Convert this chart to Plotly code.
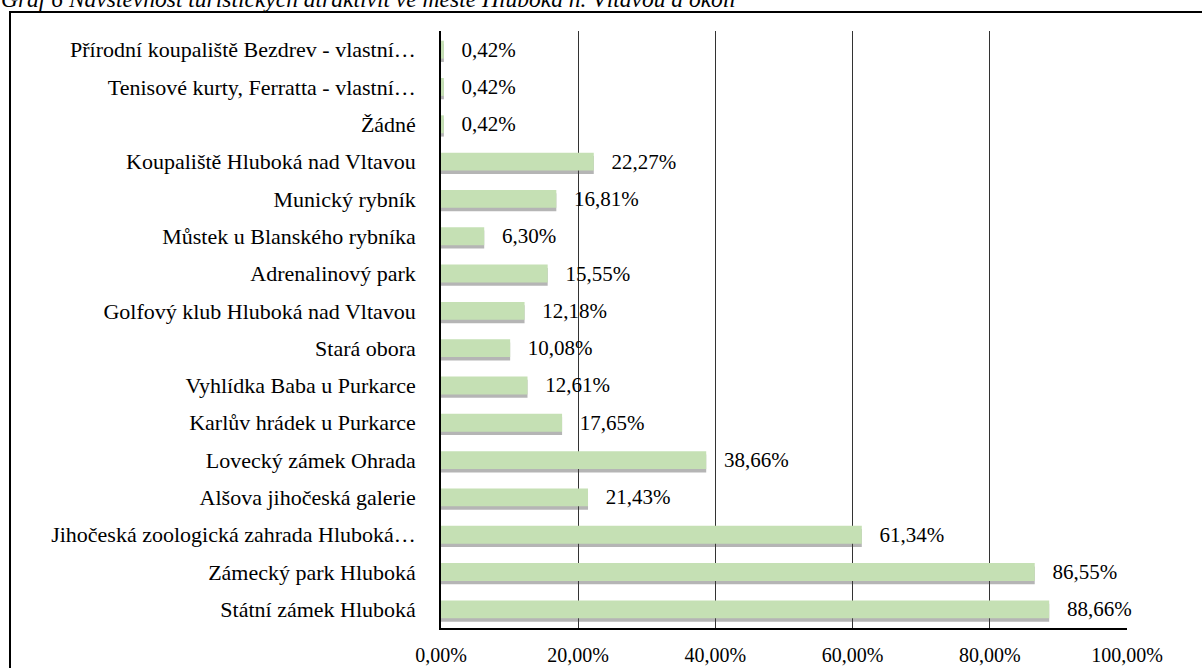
import plotly.graph_objects as go

categories = [
    "Státní zámek Hluboká",
    "Zámecký park Hluboká",
    "Jihočeská zoologická zahrada Hluboká…",
    "Alšova jihočeská galerie",
    "Lovecký zámek Ohrada",
    "Karlův hrádek u Purkarce",
    "Vyhlídka Baba u Purkarce",
    "Stará obora",
    "Golfový klub Hluboká nad Vltavou",
    "Adrenalinový park",
    "Můstek u Blanského rybníka",
    "Munický rybník",
    "Koupaliště Hluboká nad Vltavou",
    "Žádné",
    "Tenisové kurty, Ferratta - vlastní…",
    "Přírodní koupaliště Bezdrev - vlastní…",
]
values = [88.66, 86.55, 61.34, 21.43, 38.66, 17.65, 12.61, 10.08, 12.18,
          15.55, 6.30, 16.81, 22.27, 0.42, 0.42, 0.42]
tick_vals = [0, 20, 40, 60, 80, 100]
tick_labels = ["0,00%", "20,00%", "40,00%", "60,00%", "80,00%", "100,00%"]

title_text = "Graf 6 Návštěvnost turistických atraktivit ve městě Hluboká n. Vltavou a okolí"

FONT = "Liberation Serif, Times New Roman, serif"
W, H = 1202, 668
L, R, T, B = 441, 75, 31, 40
pw = W - L - R
ph = H - T - B

fig = go.Figure()
# shadow
fig.add_trace(go.Bar(
    y=categories, x=values, orientation="h",
    width=0.48, offset=-0.24 - 0.09,
    marker=dict(color="rgba(70,70,70,0.4)", line=dict(width=0)),
    hoverinfo="skip", showlegend=False,
))
# main bars
fig.add_trace(go.Bar(
    y=categories, x=values, orientation="h",
    width=0.48, offset=-0.24,
    marker=dict(color="#C5E0B4", line=dict(width=0)),
    text=values,
    texttemplate="\u2002\u2009%{x:.2f}%",
    textposition="outside",
    constraintext="none",
    textfont=dict(family=FONT, size=21, color="black"),
    cliponaxis=False,
    showlegend=False,
))

fig.update_layout(
    width=W, height=H,
    margin=dict(l=L, r=R, t=T, b=B, autoexpand=False),
    paper_bgcolor="white", plot_bgcolor="white",
    barmode="overlay",
    separators=", ",
    font=dict(family=FONT, color="black"),
    xaxis=dict(
        range=[0, 100], tickmode="array", tickvals=tick_vals, ticktext=tick_labels,
        showgrid=True, gridcolor="#333333", gridwidth=1,
        showline=True, linecolor="black", linewidth=1.5,
        zeroline=False, ticks="", ticklabelstandoff=8,
        tickfont=dict(family=FONT, size=20, color="black"),
    ),
    yaxis=dict(
        type="category", categoryorder="array", categoryarray=categories,
        range=[-0.5, len(categories) - 0.5],
        showgrid=False, showline=True, linecolor="black", linewidth=1.5,
        zeroline=False, ticks="", ticklabelstandoff=19,
        tickfont=dict(family=FONT, size=22, color="black"),
    ),
    bargap=0.5,
)

# outer frame
fig.add_shape(type="rect", xref="paper", yref="paper",
              x0=(10 - L) / pw, x1=(W + 20 - L) / pw,
              y0=-(B + 20) / ph, y1=1 + (T - 12) / ph,
              line=dict(color="black", width=2), fillcolor="rgba(0,0,0,0)",
              layer="above")

# title (partially clipped at top like the reference)
fig.add_annotation(
    text=title_text, xref="paper", yref="paper",
    x=(-1 - L) / pw, y=1 + (T - 14) / ph, xanchor="left", yanchor="bottom",
    showarrow=False,
    font=dict(family=FONT, size=23.5, color="black", style="italic"),
)

fig.write_html("out.html", config={"displayModeBar": False},
               post_script="document.body.style.margin='0';document.body.style.padding='0';")
